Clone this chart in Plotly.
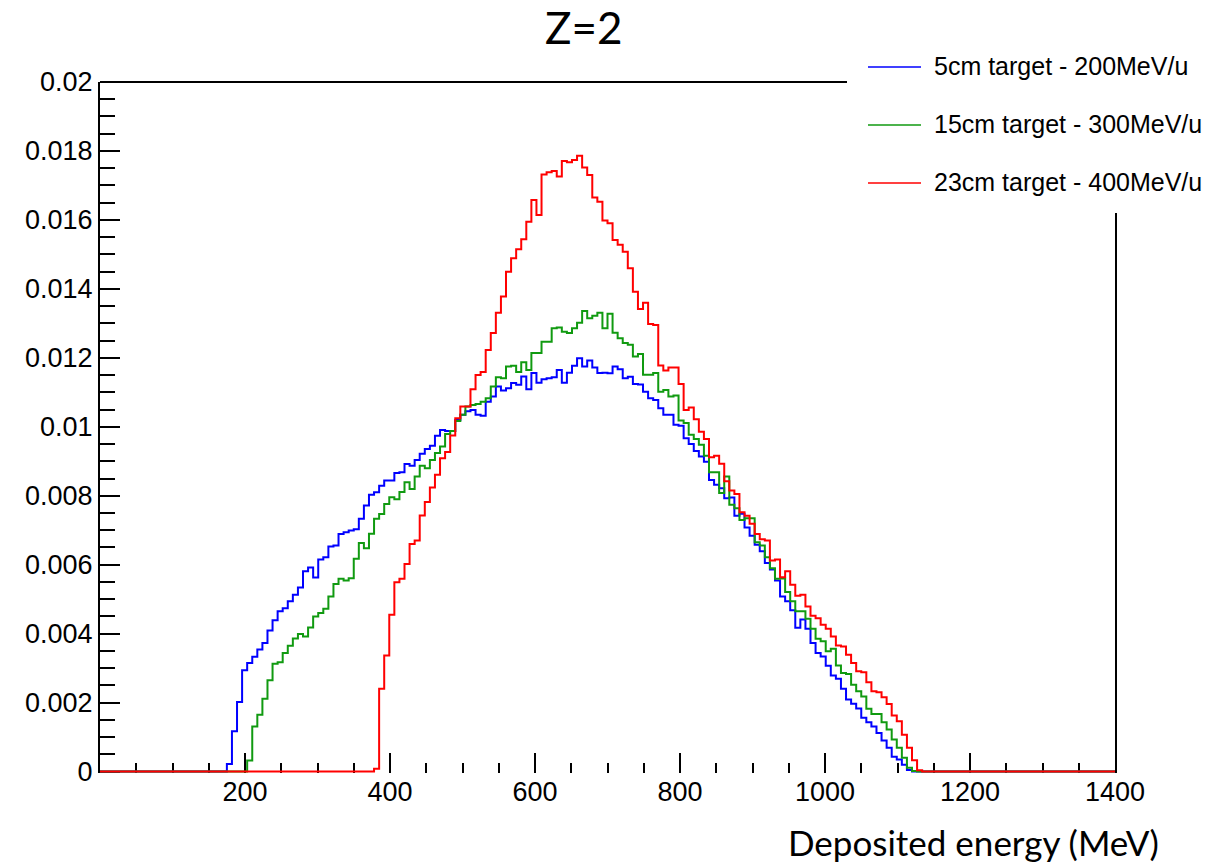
import numpy as np
import plotly.graph_objects as go

# ---------------- data ----------------
bin_width = 7.0  # MeV
x_max = 1400.0

series_names = ["5cm target - 200MeV/u", "15cm target - 300MeV/u", "23cm target - 400MeV/u"]
series_colors = ["#0000ff", "#109a10", "#ff0000"]

blue_start = 175
blue_vals = [
    0.00022, 0.00117, 0.00202, 0.00294, 0.00315, 0.00333, 0.00354, 0.00373, 0.00409, 0.00439,
    0.00465, 0.00474, 0.00494, 0.00513, 0.00534, 0.00581, 0.00592, 0.00563, 0.00615, 0.00622,
    0.00653, 0.00656, 0.00689, 0.00694, 0.00699, 0.00703, 0.00733, 0.00772, 0.00803, 0.00810,
    0.00829, 0.00844, 0.00844, 0.00866, 0.00868, 0.00892, 0.00887, 0.00904, 0.00922, 0.00936,
    0.00945, 0.00974, 0.00991, 0.00988, 0.00988, 0.01020, 0.01035, 0.01045, 0.01049, 0.01035,
    0.01032, 0.01073, 0.01088, 0.01117, 0.01105, 0.01112, 0.01127, 0.01122, 0.01146, 0.01109,
    0.01156, 0.01128, 0.01138, 0.01141, 0.01144, 0.01165, 0.01128, 0.01157, 0.01177, 0.01199,
    0.01175, 0.01192, 0.01172, 0.01156, 0.01157, 0.01155, 0.01175, 0.01167, 0.01141, 0.01145,
    0.01124, 0.01123, 0.01102, 0.01083, 0.01078, 0.01054, 0.01035, 0.01035, 0.01006, 0.01003,
    0.00967, 0.00950, 0.00930, 0.00914, 0.00899, 0.00846, 0.00832, 0.00822, 0.00793, 0.00795,
    0.00742, 0.00748, 0.00708, 0.00684, 0.00658, 0.00639, 0.00605, 0.00586, 0.00554, 0.00508,
    0.00494, 0.00468, 0.00417, 0.00441, 0.00414, 0.00373, 0.00344, 0.00334, 0.00307, 0.00279,
    0.00269, 0.00240, 0.00209, 0.00197, 0.00183, 0.00156, 0.00143, 0.00131, 0.00112, 0.00090,
    0.00069, 0.00043, 0.00035, 0.00020, 0.00005,
]

green_start = 203
green_vals = [
    0.00032, 0.00131, 0.00165, 0.00211, 0.00265, 0.00313, 0.00317, 0.00344, 0.00365, 0.00386,
    0.00399, 0.00392, 0.00418, 0.00450, 0.00460, 0.00472, 0.00508, 0.00544, 0.00559, 0.00554,
    0.00561, 0.00617, 0.00663, 0.00648, 0.00690, 0.00733, 0.00747, 0.00776, 0.00796, 0.00790,
    0.00811, 0.00839, 0.00820, 0.00856, 0.00887, 0.00880, 0.00904, 0.00924, 0.00943, 0.00979,
    0.00988, 0.01017, 0.01035, 0.01059, 0.01063, 0.01066, 0.01073, 0.01083, 0.01117, 0.01144,
    0.01141, 0.01175, 0.01177, 0.01159, 0.01187, 0.01165, 0.01214, 0.01214, 0.01247, 0.01247,
    0.01286, 0.01288, 0.01276, 0.01272, 0.01286, 0.01302, 0.01336, 0.01315, 0.01322, 0.01331,
    0.01286, 0.01328, 0.01273, 0.01257, 0.01243, 0.01238, 0.01204, 0.01211, 0.01151, 0.01151,
    0.01156, 0.01102, 0.01107, 0.01088, 0.01091, 0.01018, 0.01011, 0.00977, 0.00965, 0.00948,
    0.00916, 0.00868, 0.00868, 0.00808, 0.00856, 0.00774, 0.00764, 0.00730, 0.00735, 0.00735,
    0.00665, 0.00656, 0.00622, 0.00590, 0.00559, 0.00560, 0.00521, 0.00494, 0.00465, 0.00465,
    0.00443, 0.00414, 0.00385, 0.00378, 0.00349, 0.00356, 0.00308, 0.00286, 0.00283, 0.00252,
    0.00233, 0.00218, 0.00182, 0.00167, 0.00167, 0.00143, 0.00122, 0.00093, 0.00069, 0.00040,
    0.00011, 0.00002,
]

red_start = 378
red_vals = [
    0.00008, 0.00240, 0.00337, 0.00455, 0.00549, 0.00559, 0.00602, 0.00660, 0.00670, 0.00743,
    0.00782, 0.00824, 0.00861, 0.00909, 0.00927, 0.00975, 0.01025, 0.01059, 0.01059, 0.01109,
    0.01150, 0.01159, 0.01223, 0.01272, 0.01331, 0.01378, 0.01450, 0.01489, 0.01515, 0.01544,
    0.01595, 0.01658, 0.01614, 0.01732, 0.01738, 0.01742, 0.01726, 0.01771, 0.01767, 0.01774,
    0.01786, 0.01752, 0.01730, 0.01665, 0.01653, 0.01598, 0.01590, 0.01542, 0.01528, 0.01508,
    0.01460, 0.01392, 0.01342, 0.01360, 0.01298, 0.01295, 0.01178, 0.01163, 0.01172, 0.01172,
    0.01124, 0.01049, 0.01056, 0.01022, 0.00986, 0.00965, 0.00912, 0.00916, 0.00893, 0.00842,
    0.00815, 0.00805, 0.00752, 0.00742, 0.00719, 0.00689, 0.00674, 0.00670, 0.00612, 0.00615,
    0.00564, 0.00581, 0.00542, 0.00510, 0.00513, 0.00479, 0.00452, 0.00445, 0.00426, 0.00414,
    0.00392, 0.00366, 0.00363, 0.00339, 0.00315, 0.00291, 0.00288, 0.00259, 0.00233, 0.00230,
    0.00216, 0.00196, 0.00163, 0.00146, 0.00107, 0.00069, 0.00033, 0.00004,
]

x_tick_vals = [200, 400, 600, 800, 1000, 1200, 1400]
y_tick_vals = [0, 0.002, 0.004, 0.006, 0.008, 0.01, 0.012, 0.014, 0.016, 0.018, 0.02]
y_tick_text = ["0", "0.002", "0.004", "0.006", "0.008", "0.01", "0.012", "0.014", "0.016", "0.018", "0.02"]

title_text = "Z=2"
x_title_text = "Deposited energy (MeV)"

# ---------------- build histograms ----------------
n_bins = int(round(x_max / bin_width))
edges = np.arange(n_bins + 1) * bin_width


def hist_array(start, vals):
    h = np.zeros(n_bins)
    i0 = int(round(start / bin_width))
    h[i0:i0 + len(vals)] = vals
    return h


series = [
    hist_array(blue_start, blue_vals),
    hist_array(green_start, green_vals),
    hist_array(red_start, red_vals),
]

fig = go.Figure()
for name, color, h in zip(series_names, series_colors, series):
    fig.add_trace(go.Scatter(
        x=edges, y=np.append(h, h[-1]), mode="lines", line_shape="hv",
        line=dict(color=color, width=2), name=name, showlegend=False,
        cliponaxis=False,
    ))

# ---------------- layout ----------------
W, H = 1211, 866
ml, mr, mt, mb = 100, 96, 82, 93
pw, ph = W - ml - mr, H - mt - mb

def px_to_paper_x(px):
    return (px - ml) / pw

def px_to_paper_y(py):
    return (H - mb - py) / ph

tick_font = dict(family="Liberation Sans, Arial, sans-serif", size=27, color="black")

fig.update_layout(
    width=W, height=H,
    margin=dict(l=ml, r=mr, t=mt, b=mb, pad=0),
    paper_bgcolor="white", plot_bgcolor="white",
    showlegend=False,
    xaxis=dict(
        range=[0, x_max], showgrid=False, zeroline=False, layer="below traces",
        showline=False,
        ticks="inside", ticklen=20, tickwidth=1.5, tickcolor="black",
        tickvals=x_tick_vals, ticktext=[str(v) for v in x_tick_vals],
        tickfont=tick_font,
        minor=dict(dtick=50, tick0=0, ticks="inside", ticklen=10, tickwidth=1.5, tickcolor="black", showgrid=False),
    ),
    yaxis=dict(
        range=[-0.00004, 0.02], showgrid=False, zeroline=False, layer="below traces",
        showline=True, linecolor="black", linewidth=2, mirror=True,
        ticks="inside", ticklen=20, tickwidth=1.5, tickcolor="black",
        tickvals=y_tick_vals, ticktext=y_tick_text,
        tickfont=tick_font,
        minor=dict(dtick=0.0005, tick0=0, ticks="inside", ticklen=15, tickwidth=1.5, tickcolor="black", showgrid=False),
    ),
)

shapes = []
annotations = []

# top frame line of the pad
shapes.append(dict(
    type="line", xref="paper", yref="paper", layer="below",
    x0=0, x1=1, y0=1, y1=1, line=dict(color="black", width=2),
))

# white box hiding the frame behind the legend (as in the reference)
shapes.append(dict(
    type="rect", xref="paper", yref="paper", layer="above",
    x0=px_to_paper_x(847), x1=px_to_paper_x(W + 5),
    y0=px_to_paper_y(213), y1=px_to_paper_y(-5),
    fillcolor="white", line=dict(width=0),
))

# legend
legend_rows_py = [67, 125, 183]
for name, color, py in zip(series_names, series_colors, legend_rows_py):
    shapes.append(dict(
        type="line", xref="paper", yref="paper", layer="above",
        x0=px_to_paper_x(868), x1=px_to_paper_x(921),
        y0=px_to_paper_y(py), y1=px_to_paper_y(py),
        line=dict(color=color, width=1.5),
    ))
    annotations.append(dict(
        text=name, xref="paper", yref="paper",
        x=px_to_paper_x(932), y=px_to_paper_y(py - 1),
        xanchor="left", yanchor="middle", showarrow=False,
        font=dict(family="Liberation Sans, Arial, sans-serif", size=25, color="black"),
    ))

annotations.append(dict(
    text=title_text, xref="paper", yref="paper",
    x=px_to_paper_x(584), y=px_to_paper_y(27),
    xanchor="center", yanchor="middle", showarrow=False,
    font=dict(family="Lato, Open Sans, sans-serif", size=44, color="black"),
))
annotations.append(dict(
    text=x_title_text, xref="paper", yref="paper",
    x=px_to_paper_x(973), y=px_to_paper_y(865),
    xanchor="center", yanchor="bottom", showarrow=False,
    font=dict(family="Lato, Open Sans, sans-serif", size=35, color="black"),
))

fig.update_layout(shapes=shapes, annotations=annotations)

fig.write_html("out.html")
